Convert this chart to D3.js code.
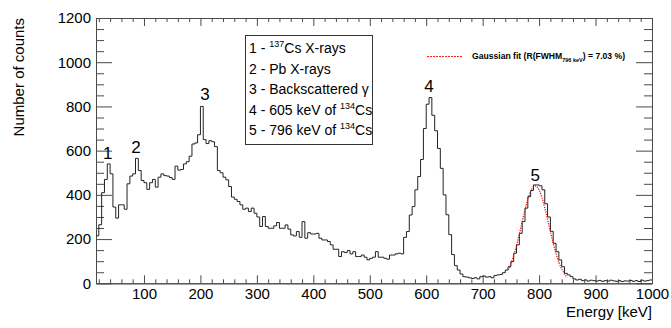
<!DOCTYPE html>
<html>
<head>
<meta charset="utf-8">
<script src="https://cdn.jsdelivr.net/npm/d3@7"></script>
<style>
  html, body { margin: 0; padding: 0; background: #fff; }
  svg { display: block; font-family: "Liberation Sans", Arial, Helvetica, sans-serif; }
</style>
</head>
<body>
<svg id="chart" width="671" height="328"></svg>
<script>
// ---------------- data ----------------
const binLowEdge = 15;      // keV, first bin lower edge
const binWidth = 5;         // keV
const counts = [
  215, 265, 410, 470, 540, 495, 345, 295, 355, 355,
  335, 450, 485, 495, 565, 510, 465, 455, 425, 455,
  470, 435, 480, 495, 487, 485, 478, 470, 530, 512,
  515, 540, 550, 575, 630, 635, 672, 800, 650, 632,
  645, 640, 618, 510, 500, 480, 468, 438, 390, 380,
  370, 355, 335, 340, 325, 340, 317, 300, 257, 302,
  257, 249, 249, 260, 275, 249, 249, 264, 245, 219,
  214, 234, 208, 279, 204, 229, 223, 223, 226, 204,
  196, 196, 189, 174, 154, 154, 121, 143, 139, 148,
  133, 143, 121, 121, 128, 118, 106, 113, 118, 143,
  118, 118, 113, 109, 128, 128, 133, 136, 133, 208,
  234, 309, 347, 423, 483, 560, 700, 810, 840, 760,
  690, 610, 520, 400, 310, 220, 130, 80, 60, 42,
  30, 28, 25, 22, 25, 20, 30, 33, 28, 30,
  25, 35, 38, 40, 48, 60, 75, 98, 136, 174,
  226, 279, 340, 392, 420, 445, 445, 441, 423, 360,
  300, 235, 181, 143, 106, 75, 45, 38, 30, 20,
  15, 18, 12, 15, 10, 14, 12, 10, 13, 9,
  12, 10, 14, 11, 9, 12, 8, 11, 10, 13,
  9, 12, 8, 14, 10, 12, 15
];
const gaussE = [745, 750, 755, 760, 765, 770, 775, 780, 785, 790, 795, 800, 805, 810, 815, 820, 825, 830, 835, 840, 845, 850];
const gaussY = [60, 88, 126, 171, 223, 278, 332, 380, 416, 437, 439, 422, 388, 342, 289, 234, 181, 134, 95, 65, 42, 26];

const xMajorTicks = [100, 200, 300, 400, 500, 600, 700, 800, 900, 1000];
const yMajorTicks = [0, 200, 400, 600, 800, 1000, 1200];
const peakLabels = ["1", "2", "3", "4", "5"];
const peakLabelE = [36, 86, 208, 605, 793];
const peakLabelV = [545, 570, 810, 845, 445];
const legendLines = [
  ["1 - ", {sup: "137"}, "Cs X-rays"],
  ["2 - Pb X-rays"],
  ["3 - Backscattered \u03b3"],
  ["4 - 605 keV of ", {sup: "134"}, "Cs"],
  ["5 - 796 keV of ", {sup: "134"}, "Cs"]
];
const xTitle = "Energy [keV]";
const yTitle = "Number of counts";

// ---------------- layout ----------------
const L = 96, R = 652, T = 18, B = 283.3;
const svg = d3.select("#chart");
const x = d3.scaleLinear().domain([15, 1000]).range([L, R]);
const y = d3.scaleLinear().domain([0, 1200]).range([B, T]);

const axisColor = "#4a4a4a";

const xMinor = d3.range(20, 1001, 20).filter(v => v % 100 !== 0);
const yMinor = d3.range(0, 1201, 50).filter(v => v % 200 !== 0);

function styleAxis(g) {
  g.selectAll("path.domain").attr("stroke", axisColor).attr("stroke-width", 1);
  g.selectAll(".tick line").attr("stroke", axisColor).attr("stroke-width", 1);
  g.selectAll(".tick text").attr("fill", "#000").style("font-size", "15px")
    .style("font-family", '"Liberation Sans", Arial, sans-serif');
}

// bottom axis
svg.append("g").attr("transform", `translate(0,${B})`)
  .call(d3.axisBottom(x).tickValues(xMinor).tickSize(-4).tickSizeOuter(0).tickFormat(""))
  .call(styleAxis);
svg.append("g").attr("transform", `translate(0,${B})`)
  .call(d3.axisBottom(x).tickValues(xMajorTicks).tickSize(-8).tickSizeOuter(0).tickPadding(5).tickFormat(d3.format("d")))
  .call(styleAxis);
// top axis
svg.append("g").attr("transform", `translate(0,${T})`)
  .call(d3.axisTop(x).tickValues(xMinor).tickSize(-4).tickSizeOuter(0).tickFormat(""))
  .call(styleAxis);
svg.append("g").attr("transform", `translate(0,${T})`)
  .call(d3.axisTop(x).tickValues(xMajorTicks).tickSize(-8).tickSizeOuter(0).tickFormat(""))
  .call(styleAxis);
// left axis
svg.append("g").attr("transform", `translate(${L},0)`)
  .call(d3.axisLeft(y).tickValues(yMinor).tickSize(-8).tickSizeOuter(0).tickFormat(""))
  .call(styleAxis);
svg.append("g").attr("transform", `translate(${L},0)`)
  .call(d3.axisLeft(y).tickValues(yMajorTicks).tickSize(-16).tickSizeOuter(0).tickPadding(5).tickFormat(d3.format("d")))
  .call(styleAxis);
// right axis
svg.append("g").attr("transform", `translate(${R},0)`)
  .call(d3.axisRight(y).tickValues(yMinor).tickSize(-8).tickSizeOuter(0).tickFormat(""))
  .call(styleAxis);
svg.append("g").attr("transform", `translate(${R},0)`)
  .call(d3.axisRight(y).tickValues(yMajorTicks).tickSize(-16).tickSizeOuter(0).tickFormat(""))
  .call(styleAxis);

// ---------------- histogram ----------------
const stepPts = [];
counts.forEach((c, i) => {
  const lo = binLowEdge + i * binWidth;
  stepPts.push([lo, c]);
  stepPts.push([lo + binWidth, c]);
});
svg.append("path")
  .attr("d", d3.line().x(d => x(d[0])).y(d => y(d[1]))(stepPts))
  .attr("fill", "none").attr("stroke", "#222").attr("stroke-width", 1);

// gaussian fit
svg.append("path")
  .attr("d", d3.line().x((d, i) => x(gaussE[i])).y(d => y(d)).curve(d3.curveCatmullRom)(gaussY))
  .attr("fill", "none").attr("stroke", "#f01010").attr("stroke-width", 1.3)
  .attr("stroke-dasharray", "1.2,1.2");

// ---------------- peak labels ----------------
svg.append("g").selectAll("text").data(peakLabels).join("text")
  .attr("x", (d, i) => x(peakLabelE[i]))
  .attr("y", (d, i) => y(peakLabelV[i]) - 4)
  .attr("text-anchor", "middle")
  .style("font-size", "17px").attr("fill", "#000")
  .text(d => d);

// ---------------- legend box ----------------
const lg = svg.append("g");
lg.append("rect").attr("x", 245.5).attr("y", 35.5).attr("width", 127).attr("height", 109)
  .attr("fill", "#fff").attr("stroke", "#333").attr("stroke-width", 1);
legendLines.forEach((parts, i) => {
  const t = lg.append("text").attr("x", 249).attr("y", 53 + i * 20.5)
    .style("font-size", "14px").attr("fill", "#000");
  let prevSup = false;
  parts.forEach(p => {
    if (typeof p === "string") {
      t.append("tspan").attr("dy", prevSup ? 6 : 0).text(p);
      prevSup = false;
    } else {
      t.append("tspan").style("font-size", "9px").attr("dy", -6).text(p.sup);
      prevSup = true;
    }
  });
});

// ---------------- fit legend ----------------
svg.append("line").attr("x1", 427).attr("x2", 463).attr("y1", 56.5).attr("y2", 56.5)
  .attr("stroke", "#ff2020").attr("stroke-width", 1).attr("stroke-dasharray", "2,1");
const ft = svg.append("text").attr("x", 472).attr("y", 59)
  .style("font-size", "8.6px").style("font-weight", "bold").attr("fill", "#000");
ft.append("tspan").text("Gaussian fit (R(FWHM");
ft.append("tspan").attr("dy", 3).style("font-size", "5.5px").text("796 keV");
ft.append("tspan").attr("dy", -3).text(") = 7.03 %)");

// ---------------- titles ----------------
svg.append("text").attr("x", R).attr("y", 317).attr("text-anchor", "end")
  .style("font-size", "15px").attr("fill", "#000").text(xTitle);
svg.append("text").attr("transform", `translate(24,${T}) rotate(-90)`)
  .attr("text-anchor", "end").style("font-size", "15px").attr("fill", "#000").text(yTitle);
</script>
</body>
</html>
